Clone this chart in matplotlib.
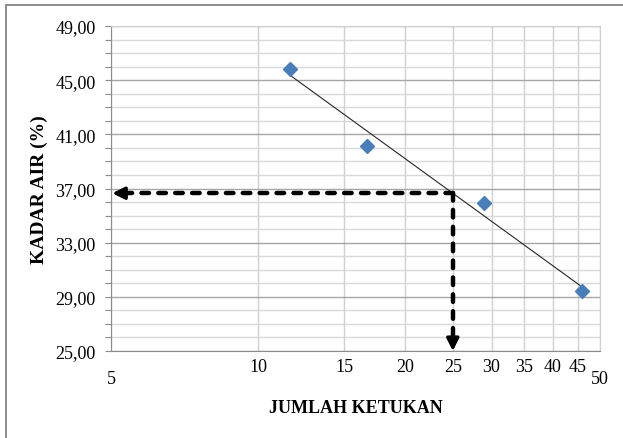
import numpy as np
import matplotlib
matplotlib.use("Agg")
import matplotlib.pyplot as plt
from matplotlib.patches import Rectangle
from matplotlib.ticker import FixedLocator, MultipleLocator, FuncFormatter
import matplotlib.transforms as mtransforms

# data
ketukan = [11.6, 16.7, 29.0, 45.9]
kadar_air = [45.86, 40.16, 35.91, 29.4]
x_ticks = [5, 10, 15, 20, 25, 30, 35, 40, 45, 50]
y_ticks = [25, 29, 33, 37, 41, 45, 49]
x_ref = 25

plt.rcParams['font.family'] = ['Liberation Serif', 'DejaVu Serif']

fig = plt.figure(figsize=(6.23, 4.39), dpi=100)
ax = fig.add_axes([111/623, 1-352/439, 489/623, 325/439])

# log fit of moisture vs blow count
k, b = np.polyfit(np.log10(ketukan), kadar_air, 1)
y_ref = k*np.log10(x_ref) + b
xs = np.array([min(ketukan), max(ketukan)])
ax.plot(xs, k*np.log10(xs) + b, color='#262626', lw=0.8, zorder=3)

ax.plot(ketukan, kadar_air, linestyle='none', marker='D', ms=7.6,
        color='#4a7ebb', mec='#4a7ebb', zorder=4)

# dashed guide lines
ax.plot([x_ref, 5.2], [y_ref, y_ref], color='black', lw=3.2,
        dashes=(1.7, 2.1), dash_capstyle='round', zorder=5)
ax.plot([x_ref, x_ref], [y_ref, 25.6], color='black', lw=3.2,
        dashes=(1.7, 2.1), dash_capstyle='round', zorder=5)
arr = dict(arrowstyle='-|>', color='black', lw=2.5, mutation_scale=18,
           shrinkA=0, shrinkB=0)
ax.annotate('', xy=(5.03, y_ref), xytext=(12, 0), textcoords='offset points',
            arrowprops=arr, zorder=6)
ax.annotate('', xy=(x_ref, 25.0), xytext=(0, 13), textcoords='offset points',
            arrowprops=arr, zorder=6)

ax.set_xscale('log')
ax.set_xlim(5, 50)
ax.set_ylim(25, 49)

ax.xaxis.set_major_locator(FixedLocator(x_ticks))
ax.xaxis.set_minor_locator(FixedLocator([]))
ax.set_xticklabels([str(t) for t in x_ticks])
ax.tick_params(axis='x', which='both', length=0, labelsize=13, pad=5)
for lab in ax.get_xticklabels():
    if lab.get_text() in ('5', '50'):
        lab.set_transform(lab.get_transform() +
                          mtransforms.ScaledTranslation(0, -12/100, fig.dpi_scale_trans))

ax.yaxis.set_major_locator(FixedLocator(y_ticks))
ax.yaxis.set_minor_locator(MultipleLocator(1))
ax.yaxis.set_major_formatter(FuncFormatter(lambda v, p: ('%.2f' % v).replace('.', ',')))
ax.tick_params(axis='y', which='both', direction='out', length=4, color='#8c8c8c',
               width=0.8, labelsize=13, pad=7)

ax.grid(True, which='major', axis='y', color='#a6a6a6', lw=1.0)
ax.grid(True, which='minor', axis='y', color='#d9d9d9', lw=1.0)
ax.grid(True, which='major', axis='x', color='#d0d0d0', lw=1.0)
ax.set_axisbelow(True)

for side in ['top', 'right']:
    ax.spines[side].set_color('#d0d0d0')
for side in ['left', 'bottom']:
    ax.spines[side].set_color('#8c8c8c')

ax.set_xlabel('JUMLAH KETUKAN', fontsize=13, fontweight='bold', labelpad=9)
ax.set_ylabel('KADAR AIR (%)', fontsize=14, fontweight='bold', labelpad=5)

# outer chart frame (only top/left visible in the crop)
fig.add_artist(Rectangle((5.5/623, -0.1), 1.2, (439-5.5)/439 + 0.1,
                         transform=fig.transFigure, fill=False,
                         ec='#8c8c8c', lw=1.4))

fig.savefig('out.png', dpi=100)
